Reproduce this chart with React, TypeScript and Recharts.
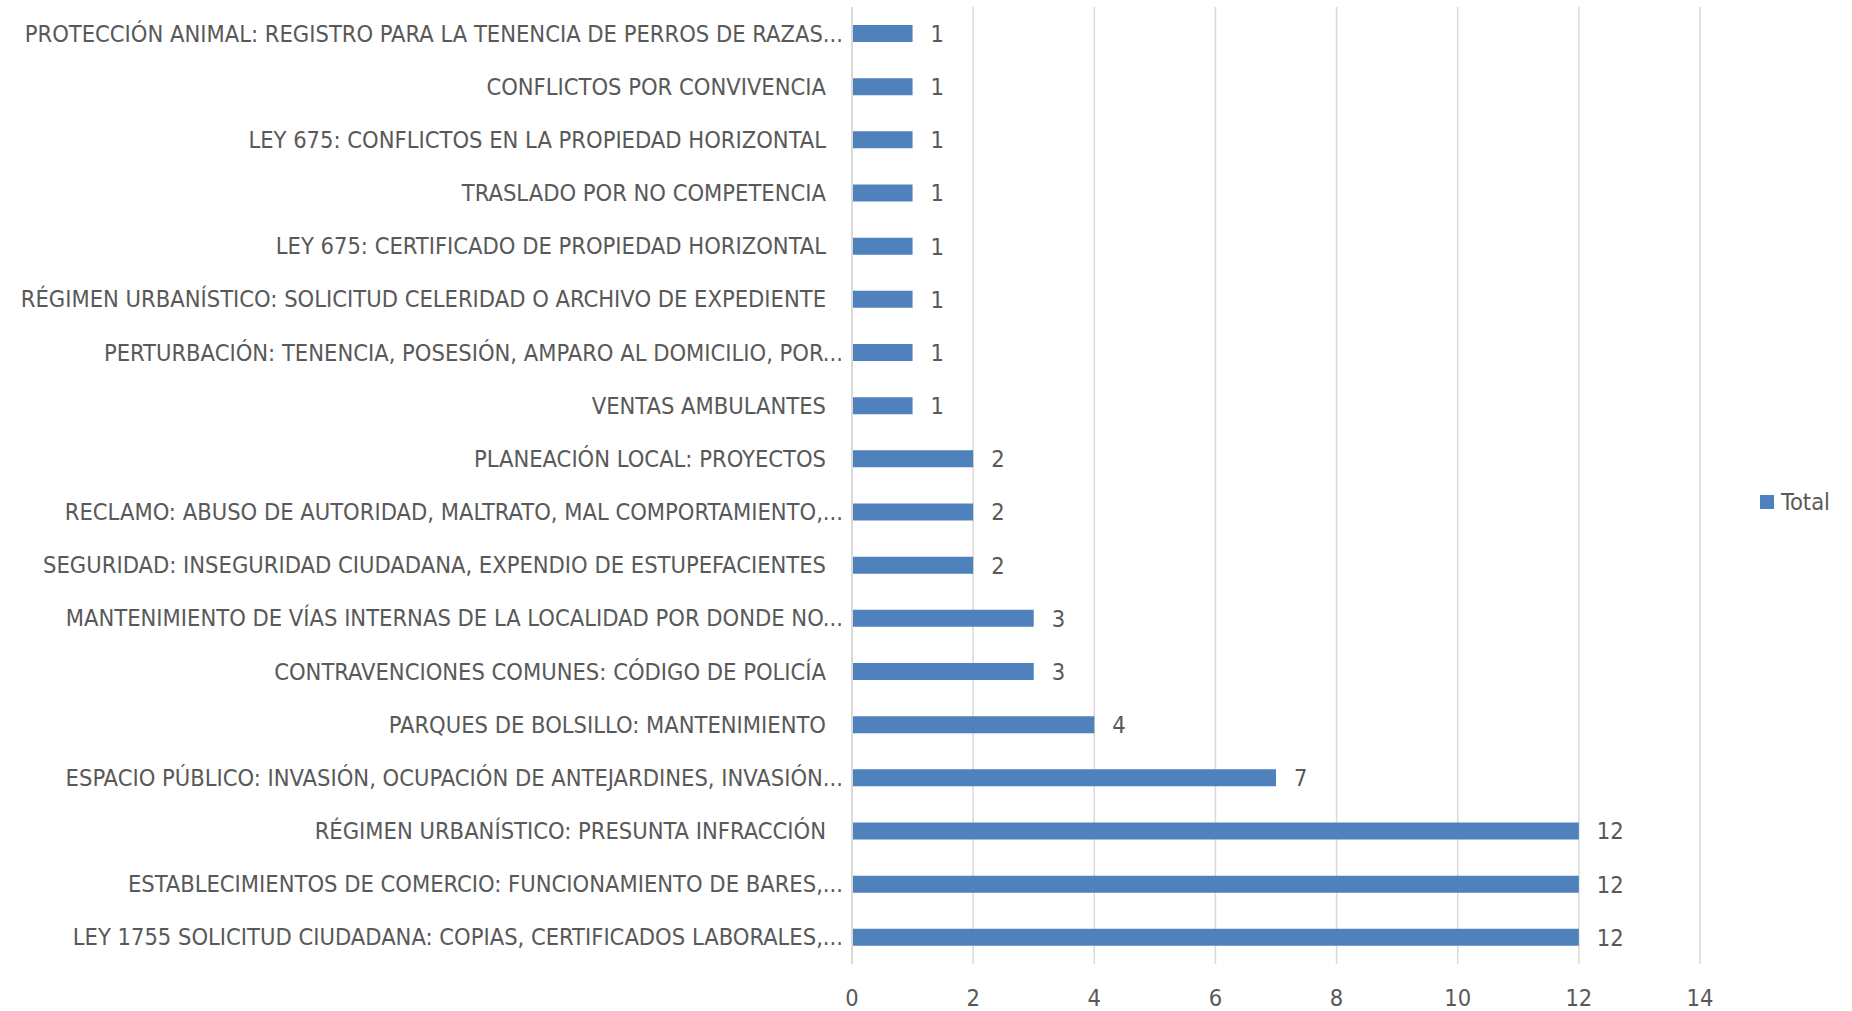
import { BarChart, Bar, XAxis, YAxis, CartesianGrid, Legend, LabelList } from "recharts"

const categories = [
  "PROTECCIÓN ANIMAL: REGISTRO PARA LA TENENCIA DE PERROS DE RAZAS...",
  "CONFLICTOS POR CONVIVENCIA",
  "LEY 675: CONFLICTOS EN LA PROPIEDAD HORIZONTAL",
  "TRASLADO POR NO COMPETENCIA",
  "LEY 675: CERTIFICADO DE PROPIEDAD HORIZONTAL",
  "RÉGIMEN URBANÍSTICO: SOLICITUD CELERIDAD O ARCHIVO DE EXPEDIENTE",
  "PERTURBACIÓN: TENENCIA, POSESIÓN, AMPARO AL DOMICILIO, POR...",
  "VENTAS AMBULANTES",
  "PLANEACIÓN LOCAL: PROYECTOS",
  "RECLAMO: ABUSO DE AUTORIDAD, MALTRATO, MAL COMPORTAMIENTO,...",
  "SEGURIDAD: INSEGURIDAD CIUDADANA, EXPENDIO DE ESTUPEFACIENTES",
  "MANTENIMIENTO DE VÍAS INTERNAS DE LA LOCALIDAD POR DONDE NO...",
  "CONTRAVENCIONES COMUNES: CÓDIGO DE POLICÍA",
  "PARQUES DE BOLSILLO: MANTENIMIENTO",
  "ESPACIO PÚBLICO: INVASIÓN, OCUPACIÓN DE ANTEJARDINES, INVASIÓN...",
  "RÉGIMEN URBANÍSTICO: PRESUNTA INFRACCIÓN",
  "ESTABLECIMIENTOS DE COMERCIO: FUNCIONAMIENTO DE BARES,...",
  "LEY 1755 SOLICITUD CIUDADANA: COPIAS, CERTIFICADOS LABORALES,...",
]

const totals = [1, 1, 1, 1, 1, 1, 1, 1, 2, 2, 2, 3, 3, 4, 7, 12, 12, 12]

const xTicks = [0, 2, 4, 6, 8, 10, 12, 14]

const data = categories.map((name, i) => ({ name, Total: totals[i] }))

const FONT = "'Liberation Sans Narrow', 'DejaVu Sans Condensed', 'Noto Sans', sans-serif"
const TEXT = "#595959"
const SIZE = 23.5

function CategoryTick(props: any) {
  const { x, y, payload } = props
  const label: string = payload.value
  const truncated = label.endsWith("...")
  return (
    <text
      x={x - (truncated ? 1 : 18)}
      y={y}
      textAnchor="end"
      dominantBaseline="central"
      fill={TEXT}
      fontSize={SIZE}
      fontFamily={FONT}
    >
      {label}
    </text>
  )
}

function LegendBox() {
  return (
    <div style={{ display: "flex", alignItems: "center", fontFamily: FONT, fontSize: SIZE, color: TEXT }}>
      <span style={{ display: "inline-block", width: 14, height: 14, background: "#4F81BD", marginRight: 7 }} />
      Total
    </div>
  )
}

export default function App() {
  return (
    <div style={{ position: "absolute", left: 0, top: 0, background: "#fff" }}>
      <BarChart
        width={1852}
        height={1011}
        data={data}
        layout="vertical"
        margin={{ top: 7, right: 62, left: 0, bottom: 0 }}
      >
        <CartesianGrid horizontal={false} stroke="#D9D9D9" strokeWidth={1.5} />
        <XAxis
          type="number"
          domain={[0, 14]}
          ticks={xTicks}
          axisLine={false}
          tickLine={false}
          tickSize={0}
          tickMargin={25}
          height={47}
          tick={{ fill: TEXT, fontSize: SIZE, fontFamily: FONT }}
        />
        <YAxis
          type="category"
          dataKey="name"
          width={852}
          axisLine={{ stroke: "#D9D9D9", strokeWidth: 2 }}
          tickLine={false}
          interval={0}
          tick={<CategoryTick />}
        />
        <Legend
          layout="vertical"
          align="right"
          verticalAlign="top"
          content={<LegendBox />}
          wrapperStyle={{ position: "absolute", left: 1760, top: 488, width: 90 }}
        />
        <Bar dataKey="Total" fill="#4F81BD" barSize={17} isAnimationActive={false}>
          <LabelList
            dataKey="Total"
            position="right"
            offset={18}
            fill={TEXT}
            fontSize={SIZE}
            fontFamily={FONT}
          />
        </Bar>
      </BarChart>
    </div>
  )
}
